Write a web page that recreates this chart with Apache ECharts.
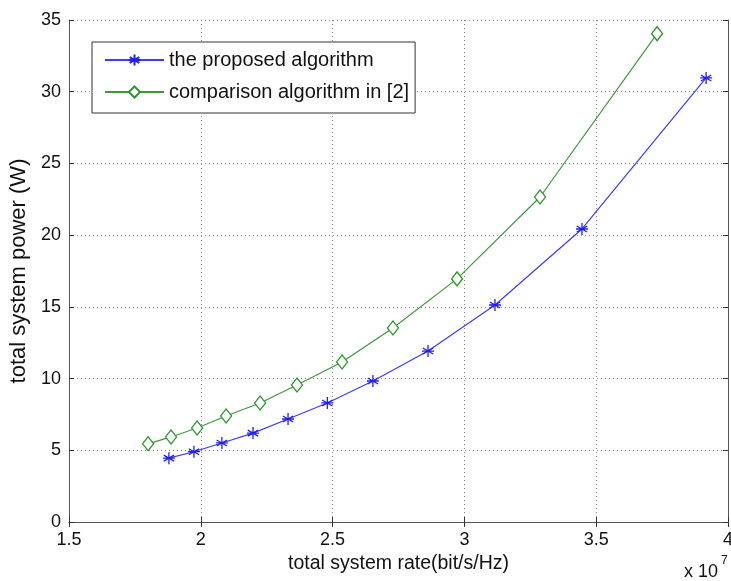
<!DOCTYPE html>
<html>
<head>
<meta charset="utf-8">
<script src="https://cdn.jsdelivr.net/npm/echarts@6/dist/echarts.min.js"></script>
<style>
  html, body { margin: 0; padding: 0; background: #fff; }
  #chart { width: 731px; height: 581px; }
</style>
</head>
<body>
<div id="chart"></div>
<script>
// values (x in units of 1e7 bit/s/Hz)
const proposedRate = [1.879, 1.974, 2.080, 2.198, 2.331, 2.480, 2.653, 2.862, 3.116, 3.446, 3.917];
const proposedPower = [4.45, 4.90, 5.51, 6.20, 7.18, 8.30, 9.83, 11.92, 15.13, 20.43, 30.96];
const compareRate = [1.800, 1.887, 1.986, 2.096, 2.225, 2.365, 2.536, 2.729, 2.972, 3.287, 3.731];
const comparePower = [5.45, 5.93, 6.55, 7.39, 8.30, 9.55, 11.16, 13.53, 16.95, 22.66, 34.05];

const seriesNames = ['the proposed algorithm', 'comparison algorithm in [2]'];
const xTicks = { min: 1.5, max: 4, step: 0.5 };
const yTicks = { min: 0, max: 35, step: 5 };

const FONT = '"Liberation Sans", Arial, sans-serif';
const starPath = 'path://M0,-6L0,6M-5.2,-3L5.2,3M-5.2,3L5.2,-3M-6,0L6,0';

const chart = echarts.init(document.getElementById('chart'), null, { renderer: 'canvas' });

const gridLine = { show: true, lineStyle: { color: '#8a8a8a', type: [1, 3], width: 1 } };
const axisLine = { show: true, lineStyle: { color: '#555', width: 1 } };
const tick = { show: true, inside: true, length: 5, lineStyle: { color: '#333' } };

const option = {
  animation: false,
  backgroundColor: '#fff',
  grid: { left: 69, top: 20, width: 659, height: 502, containLabel: false, outerBoundsMode: 'none' },
  legend: {
    left: 92, top: 42,
    orient: 'vertical',
    backgroundColor: '#fff',
    borderColor: '#333', borderWidth: 1,
    padding: [8, 6, 11, 12],
    itemWidth: 59, itemHeight: 14, itemGap: 12,
    textStyle: { fontFamily: FONT, fontSize: 20, color: '#111' },
    data: seriesNames
  },
  xAxis: [
    {
      type: 'value', min: xTicks.min, max: xTicks.max, interval: xTicks.step,
      position: 'bottom',
      axisLine, axisTick: tick, splitLine: gridLine,
      axisLabel: { margin: 9, fontFamily: FONT, fontSize: 18, color: '#111' },
      name: 'total system rate(bit/s/Hz)', nameLocation: 'middle', nameGap: 32,
      nameTextStyle: { fontFamily: FONT, fontSize: 19.5, color: '#111' }
    },
    {
      type: 'value', min: xTicks.min, max: xTicks.max, interval: xTicks.step,
      position: 'top',
      axisLine, axisTick: tick, splitLine: { show: false }, axisLabel: { show: false }
    }
  ],
  yAxis: [
    {
      type: 'value', min: yTicks.min, max: yTicks.max, interval: yTicks.step,
      position: 'left',
      axisLine, axisTick: tick, splitLine: gridLine,
      axisLabel: { margin: 8, fontFamily: FONT, fontSize: 18, color: '#111' },
      name: 'total system power (W)', nameLocation: 'middle', nameGap: 35,
      nameTextStyle: { fontFamily: FONT, fontSize: 22, color: '#111' }
    },
    {
      type: 'value', min: yTicks.min, max: yTicks.max, interval: yTicks.step,
      position: 'right',
      axisLine, axisTick: tick, splitLine: { show: false }, axisLabel: { show: false }
    }
  ],
  graphic: [
    {
      type: 'text', left: 684, top: 563,
      style: { text: 'x 10', fontFamily: FONT, fontSize: 18, fill: '#111' }
    },
    {
      type: 'text', left: 721, top: 555,
      style: { text: '7', fontFamily: FONT, fontSize: 12, fill: '#111' }
    }
  ],
  series: [
    {
      name: seriesNames[0],
      type: 'line',
      data: proposedRate.map((x, i) => [x, proposedPower[i]]),
      symbol: starPath,
      symbolSize: 12,
      itemStyle: { color: '#1f1fff', borderColor: '#1f1fff', borderWidth: 1.3 },
      lineStyle: { color: '#3b3bff', width: 1.2 }
    },
    {
      name: seriesNames[1],
      type: 'line',
      data: compareRate.map((x, i) => [x, comparePower[i]]),
      symbol: 'diamond',
      symbolSize: [11, 14],
      itemStyle: { color: '#fff', borderColor: '#2a962a', borderWidth: 1.3 },
      lineStyle: { color: '#3a9a3a', width: 1.2 }
    }
  ]
};

chart.setOption(option);
</script>
</body>
</html>
